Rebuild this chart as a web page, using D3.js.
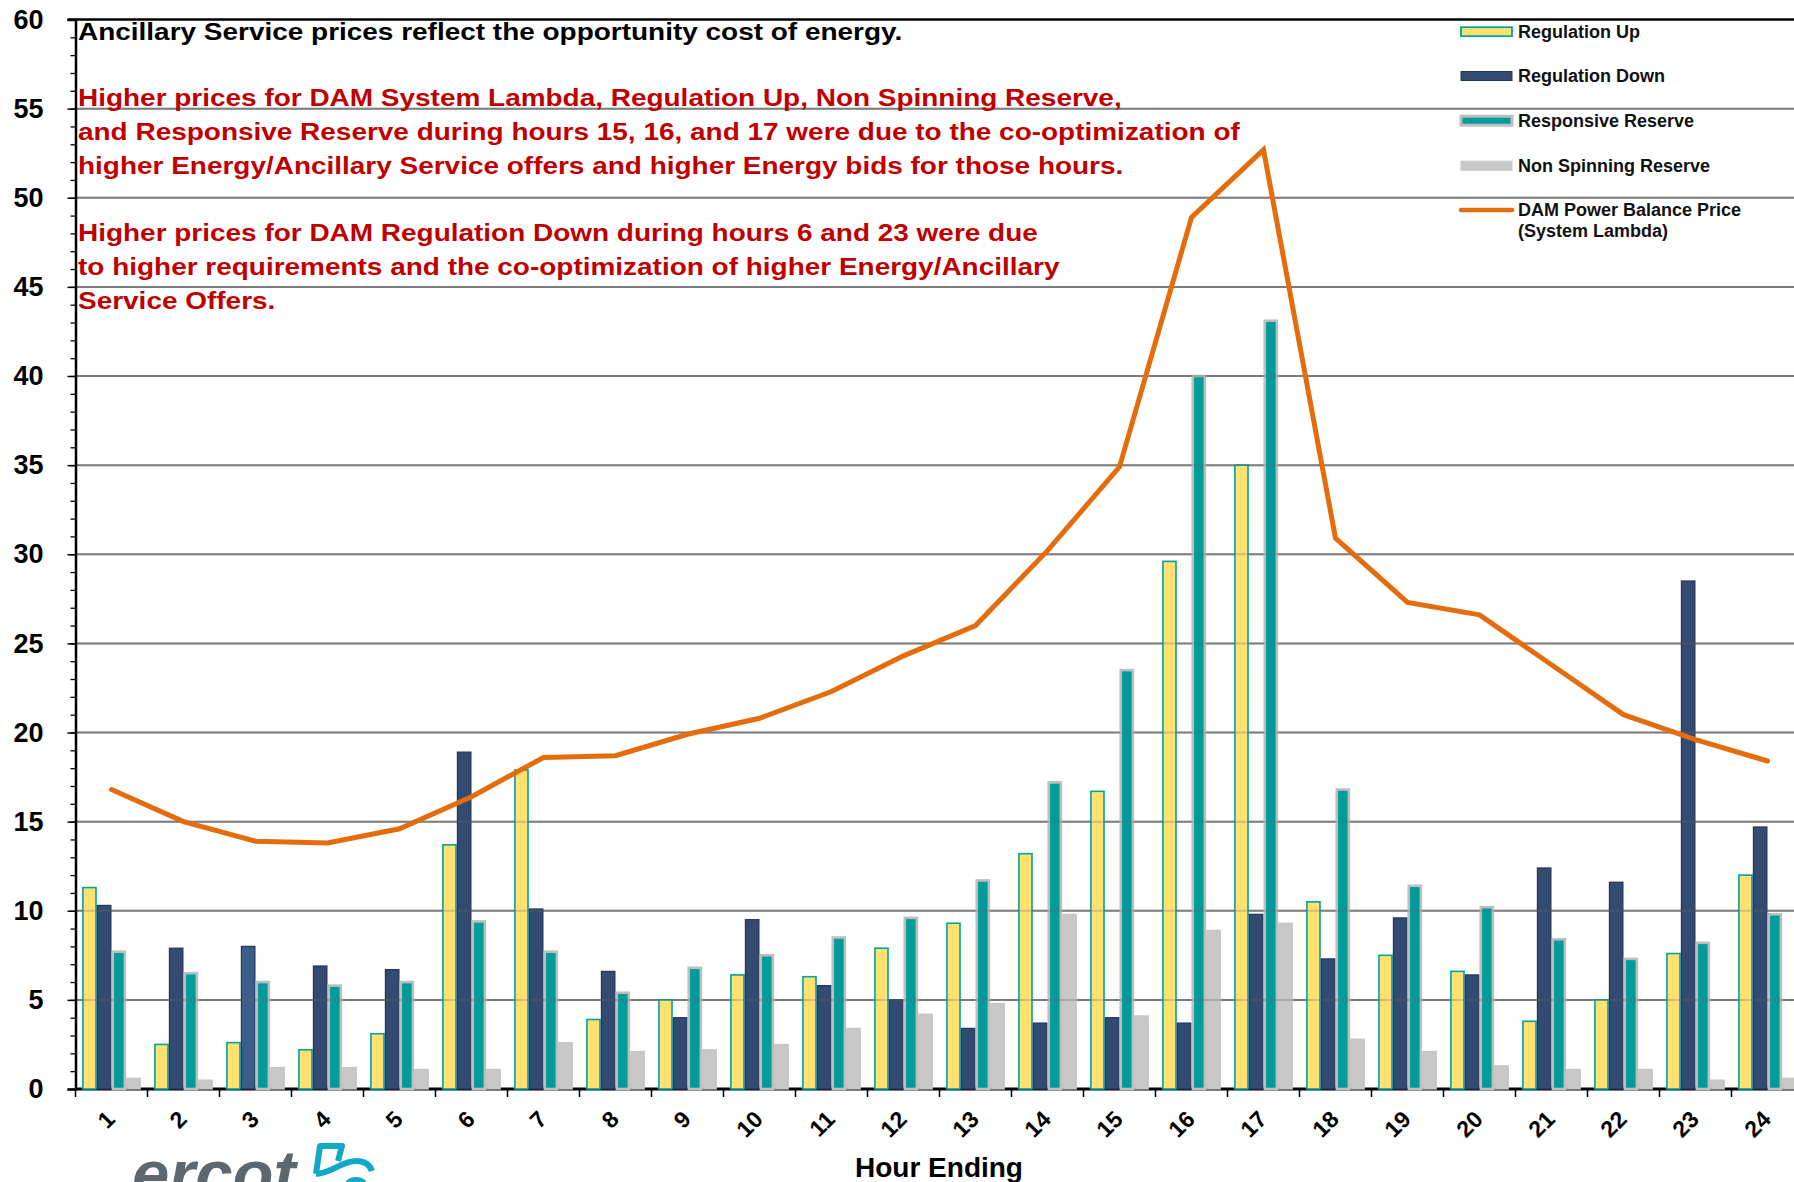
<!DOCTYPE html>
<html>
<head>
<meta charset="utf-8">
<script src="https://cdn.jsdelivr.net/npm/d3@7"></script>
<style>
  html, body { margin: 0; padding: 0; background: #fff; }
  svg { display: block; font-family: "Liberation Sans", Arial, sans-serif; }
</style>
</head>
<body>
<svg id="chart" width="1794" height="1182"></svg>
<script>
const hours = ["1","2","3","4","5","6","7","8","9","10","11","12","13","14","15","16","17","18","19","20","21","22","23","24"];
const regUp    = [11.3, 2.5, 2.6, 2.2, 3.1, 13.7, 17.9, 3.9, 5.0, 6.4, 6.3, 7.9, 9.3, 13.2, 16.7, 29.6, 35.0, 10.5, 7.5, 6.6, 3.8, 5.0, 7.6, 12.0];
const regDown  = [10.3, 7.9, 8.0, 6.9, 6.7, 18.9, 10.1, 6.6, 4.0, 9.5, 5.8, 5.0, 3.4, 3.7, 4.0, 3.7, 9.8, 7.3, 9.6, 6.4, 12.4, 11.6, 28.5, 14.7];
const respRes  = [7.7, 6.5, 6.0, 5.8, 6.0, 9.4, 7.7, 5.4, 6.8, 7.5, 8.5, 9.6, 11.7, 17.2, 23.5, 40.0, 43.1, 16.8, 11.4, 10.2, 8.4, 7.3, 8.2, 9.8];
const nonSpin  = [0.6, 0.5, 1.2, 1.2, 1.1, 1.1, 2.6, 2.1, 2.2, 2.5, 3.4, 4.2, 4.8, 9.8, 4.1, 8.9, 9.3, 2.8, 2.1, 1.3, 1.1, 1.1, 0.5, 0.6];
const lambda   = [16.8, 15.0, 13.9, 13.8, 14.6, 16.4, 18.6, 18.7, 19.9, 20.8, 22.3, 24.3, 26.0, 30.2, 34.9, 48.9, 52.7, 30.9, 27.3, 26.6, 23.8, 21.0, 19.6, 18.4];
const seriesNames = ["Regulation Up", "Regulation Down", "Responsive Reserve", "Non Spinning Reserve"];
const lineName = ["DAM Power Balance Price", "(System Lambda)"];
const yTicks = [0, 5, 10, 15, 20, 25, 30, 35, 40, 45, 50, 55, 60];
const titleText = "Ancillary Service prices reflect the opportunity cost of energy.";
const noteLines = [
  "Higher prices for DAM System Lambda, Regulation Up, Non Spinning Reserve,",
  "and Responsive Reserve during hours 15, 16, and 17 were due to the co-optimization of",
  "higher Energy/Ancillary Service offers and higher Energy bids for those hours.",
  "",
  "Higher prices for DAM Regulation Down during hours 6 and 23 were due",
  "to higher requirements and the co-optimization of higher Energy/Ancillary",
  "Service Offers."
];
const xTitle = "Hour Ending";

const seriesValues = [regUp, regDown, respRes, nonSpin];
const styles = [
  {fill: "#FFE170", stroke: "#00A3A3", sw: 1.6},
  {fill: "#344B71", stroke: "#22365A", sw: 1.2},
  {fill: "#009B9B", stroke: "#BEBEBE", sw: 2.6},
  {fill: "#C8C8C8", stroke: "#C4C4C4", sw: 1.2}
];

const svg = d3.select("#chart");
const W = 1794, H = 1182;
const plotLeft = 75.5, step = 72, plotTop = 19.5, plotBottom = 1089;

const x = d3.scaleBand().domain(hours).range([plotLeft, plotLeft + step * hours.length]).paddingInner(0).paddingOuter(0);
const xs = d3.scaleBand().domain(seriesNames).range([0, x.bandwidth()]).paddingInner(0).paddingOuter(0.45);
const y = d3.scaleLinear().domain([0, 60]).range([plotBottom, plotTop]);

// gridlines (under bars)
const gridVals = yTicks.filter(v => v > 0 && v < 60);
svg.append("g").selectAll("line").data(gridVals).join("line")
  .attr("x1", plotLeft).attr("x2", W).attr("y1", d => y(d)).attr("y2", d => y(d))
  .attr("stroke", "#858585").attr("stroke-width", 2);

// zero line
svg.append("line").attr("x1", plotLeft).attr("x2", W).attr("y1", y(0)).attr("y2", y(0))
  .attr("stroke", "#000").attr("stroke-width", 3);

// bars
const barG = svg.append("g");
seriesNames.forEach((name, si) => {
  barG.append("g").selectAll("rect").data(hours).join("rect")
    .attr("x", h => x(h) + xs(name) + styles[si].sw / 2)
    .attr("width", xs.bandwidth() - styles[si].sw)
    .attr("y", (h, i) => y(seriesValues[si][i]))
    .attr("height", (h, i) => y(0) - y(seriesValues[si][i]))
    .attr("fill", (h, i) => (si === 1 && i === 2) ? "#3B5D8A" : styles[si].fill)
    .attr("stroke", styles[si].stroke)
    .attr("stroke-width", styles[si].sw);
});

// gridlines faint overlay over bars
svg.append("g").selectAll("line").data(gridVals).join("line")
  .attr("x1", plotLeft).attr("x2", W).attr("y1", d => y(d)).attr("y2", d => y(d))
  .attr("stroke", "#6a6a6a").attr("stroke-width", 2).attr("stroke-opacity", 0.3);

// top border
svg.append("line").attr("x1", plotLeft - 8).attr("x2", W).attr("y1", y(60)).attr("y2", y(60))
  .attr("stroke", "#000").attr("stroke-width", 2.5);

// y axis
const yAxis = svg.append("g").attr("transform", `translate(${plotLeft},0)`)
  .call(d3.axisLeft(y).tickValues(yTicks).tickSize(8).tickPadding(24).tickFormat(d3.format("d")));
yAxis.select(".domain").attr("stroke", "#000").attr("stroke-width", 2.5);
yAxis.selectAll(".tick line").attr("stroke", "#000").attr("stroke-width", 1.5);
yAxis.selectAll(".tick text").attr("font-size", 27).attr("font-weight", "bold").attr("fill", "#000")
  .attr("font-family", "Liberation Sans, Arial, sans-serif");
const yMinor = svg.append("g").attr("transform", `translate(${plotLeft},0)`)
  .call(d3.axisLeft(y).tickValues(d3.range(0, 61, 1)).tickSize(5).tickFormat(""));
yMinor.select(".domain").remove();
yMinor.selectAll(".tick line").attr("stroke", "#000").attr("stroke-width", 1.3);

// x axis boundary ticks
svg.append("g").selectAll("line").data(hours).join("line")
  .attr("x1", h => x(h)).attr("x2", h => x(h)).attr("y1", y(0)).attr("y2", y(0) + 8)
  .attr("stroke", "#000").attr("stroke-width", 1.5);

// x labels
const xAxis = svg.append("g").attr("transform", `translate(0,${y(0)})`)
  .call(d3.axisBottom(x).tickSize(0));
xAxis.select(".domain").remove();
xAxis.selectAll(".tick text")
  .attr("y", 0).attr("dy", "0.35em")
  .attr("transform", "translate(-1,26) rotate(-45)")
  .attr("text-anchor", "end")
  .attr("font-size", 23).attr("font-weight", "bold").attr("fill", "#000")
  .attr("font-family", "Liberation Sans, Arial, sans-serif");

// lambda line
const line = d3.line().x((d, i) => x(hours[i]) + x.bandwidth() / 2).y(d => y(d));
svg.append("path").datum(lambda).attr("d", line)
  .attr("fill", "none").attr("stroke", "#E46C0A").attr("stroke-width", 5)
  .attr("stroke-linecap", "round").attr("stroke-linejoin", "miter");

// annotation texts (horizontally widened like the reference)
const stretch = 1.165;
svg.append("text").attr("transform", `translate(78,40) scale(${stretch},1)`).text(titleText)
  .attr("font-size", 24).attr("font-weight", "bold").attr("fill", "#000");
const noteY = [106, 140, 173.5, null, 240.5, 274.5, 308.5];
noteLines.forEach((t, i) => {
  if (!t) return;
  svg.append("text").attr("transform", `translate(78,${noteY[i]}) scale(${stretch},1)`).text(t)
    .attr("font-size", 24).attr("font-weight", "bold").attr("fill", "#C00000");
});

// x title
svg.append("text").attr("x", 939).attr("y", 1177).attr("text-anchor", "middle").text(xTitle)
  .attr("font-size", 28).attr("font-weight", "bold").attr("fill", "#000");

// legend
const lg = svg.append("g");
const rowY = [31.7, 76, 120.7, 165.7];
seriesNames.forEach((name, i) => {
  const s = styles[i];
  const sw = i === 2 ? 3 : (i === 0 ? 1.8 : 1);
  lg.append("rect").attr("x", 1461).attr("y", rowY[i] - 4.5).attr("width", 51).attr("height", 9)
    .attr("fill", s.fill).attr("stroke", s.stroke).attr("stroke-width", sw);
  lg.append("text").attr("x", 1518).attr("y", rowY[i] + 6).text(name)
    .attr("font-size", 18).attr("font-weight", "bold").attr("fill", "#111");
});
lg.append("line").attr("x1", 1461).attr("x2", 1512).attr("y1", 210).attr("y2", 210)
  .attr("stroke", "#E46C0A").attr("stroke-width", 4.5).attr("stroke-linecap", "round");
lineName.forEach((t, i) => {
  lg.append("text").attr("x", 1518).attr("y", 216 + i * 21).text(t)
    .attr("font-size", 18).attr("font-weight", "bold").attr("fill", "#111");
});

// ercot logo (partially cut off at bottom, as in the reference)
svg.append("text").attr("x", 132).attr("y", 1197).text("ercot")
  .attr("font-size", 67).attr("font-weight", "bold").attr("font-style", "italic").attr("fill", "#5C6770");
const logo = svg.append("g").attr("fill", "none").attr("stroke", "#12A9C8").attr("stroke-width", 6)
  .attr("stroke-linejoin", "round").attr("stroke-linecap", "butt");
logo.append("path").attr("d", "M 316 1174 L 320 1146 L 342 1146 L 338 1161");
logo.append("path").attr("d", "M 316 1174 C 332 1173, 342 1161, 356 1161 C 365 1161, 370 1165, 372 1171");
logo.append("path").attr("d", "M 348 1183 C 352 1179, 360 1179, 364 1183");
</script>
</body>
</html>
